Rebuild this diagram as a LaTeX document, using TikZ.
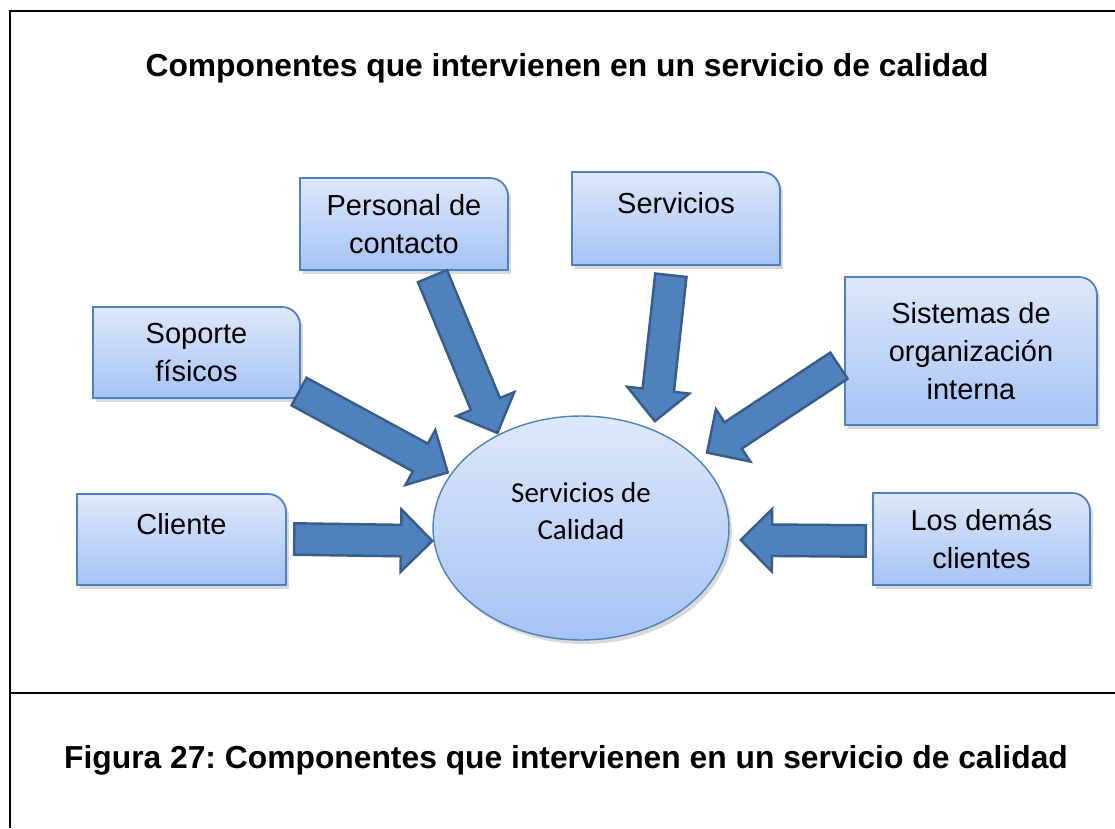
\documentclass[tikz,border=0pt]{standalone}
\usepackage{fontspec}
\setmainfont{Liberation Sans}
\newfontfamily\calfont{Carlito}
\frenchspacing
\usetikzlibrary{shapes.geometric,shapes.arrows,shadows,backgrounds,calc}

\definecolor{boxtop}{RGB}{222,232,250}
\definecolor{boxbot}{RGB}{165,195,245}
\definecolor{boxline}{RGB}{79,129,189}
\definecolor{arrfill}{RGB}{79,129,189}
\definecolor{arrline}{RGB}{56,93,138}

% outline of a component box, only the top right corner is rounded
\newcommand{\boxoutline}[1]{%
  \path[boxfill] (#1.south west) -- (#1.north west) -- ([xshift=-0.36cm]#1.north east)
    .. controls +(0.2cm,0) and +(0,0.2cm) .. ([yshift=-0.36cm]#1.north east)
    -- (#1.south east) -- cycle;}
% thick block arrow from #2 to #3
\newcommand{\blockarrow}[3]{%
  \path let \p1=($(#3)-(#2)$) in
    node[bigarrow,anchor=tail,rotate={atan2(\y1,\x1)},minimum height={veclen(\x1,\y1)}] (#1) at (#2) {};}

\begin{document}
\begin{tikzpicture}[x=0.02cm,y=-0.02cm,
			comp/.style={rectangle,inner sep=0,outer sep=0,align=center,font=\fontsize{16.5}{21.8}\selectfont},
			oneline/.style={text depth=0.64cm},
			boxfill/.style={draw=boxline,line width=1pt,top color=boxtop,bottom color=boxbot,
				drop shadow={shadow xshift=0.06cm,shadow yshift=-0.08cm,opacity=0.3}},
			bigarrow/.style={single arrow,draw=arrline,fill=arrfill,line width=1.4pt,inner sep=0.29cm,
				minimum width=0pt,single arrow head extend=0.31cm,single arrow tip angle=90,single arrow head indent=0pt},
			heading/.style={font=\bfseries\fontsize{18.1}{22}\selectfont}
		]
		\useasboundingbox (0,0) rectangle (1115,828);
		% frame
		\draw[line width=1.5pt] (1115,11) -- (10,11) -- (10,828);
		\draw[line width=1.5pt] (10,693) -- (1115,693);
		\node[heading] (T) at (567,68) {Componentes que intervienen en un servicio de calidad};
		\node[heading] (L) at (566,760) {Figura 27: Componentes que intervienen en un servicio de calidad};

		% components
		\node[comp,minimum width=4.18cm,minimum height=1.82cm,oneline] (A) at (181.5,539.5) {Cliente};
		\node[comp,minimum width=4.14cm,minimum height=1.82cm] (B) at (196.5,352.5) {Soporte\\físicos};
		\node[comp,minimum width=4.16cm,minimum height=1.84cm] (C) at (404,224) {Personal de\\contacto};
		\node[comp,minimum width=4.16cm,minimum height=1.86cm,oneline] (D) at (676,218.5) {Servicios};
		\node[comp,minimum width=5.04cm,minimum height=2.96cm] (E) at (971,351) {Sistemas de\\organización\\interna};
		\node[comp,minimum width=4.34cm,minimum height=1.84cm] (F) at (981.5,539) {Los demás\\clientes};
		\begin{scope}[on background layer]
			\foreach \b in {A,B,C,D,E,F} {\boxoutline{\b}}
		\end{scope}

		\node[ellipse,draw=boxline,line width=0.8pt,top color=boxtop,bottom color=boxbot,inner sep=0,
			minimum width=5.92cm,minimum height=4.48cm,
			drop shadow={shadow xshift=0.06cm,shadow yshift=-0.08cm,opacity=0.3}] (Q) at (581,528)
			{\parbox[c][1.84cm][t]{4cm}{\centering\calfont\fontsize{16.5}{21.5}\selectfont Servicios de\\Calidad}};

		% arrows into the center
		\coordinate (A1) at (293,539); \coordinate (A2) at (431,541);
		\coordinate (B1) at (298,391); \coordinate (B2) at (447,472);
		\coordinate (C1) at (432,275); \coordinate (C2) at (497,432);
		\coordinate (D1) at (671,274); \coordinate (D2) at (655,420);
		\coordinate (E1) at (840,365); \coordinate (E2) at (708,452);
		\coordinate (F1) at (867,541); \coordinate (F2) at (742,540);
		\foreach \b in {A,B,C,D,E,F} {\blockarrow{arr\b}{\b1}{\b2}}
	\end{tikzpicture}
\end{document}
